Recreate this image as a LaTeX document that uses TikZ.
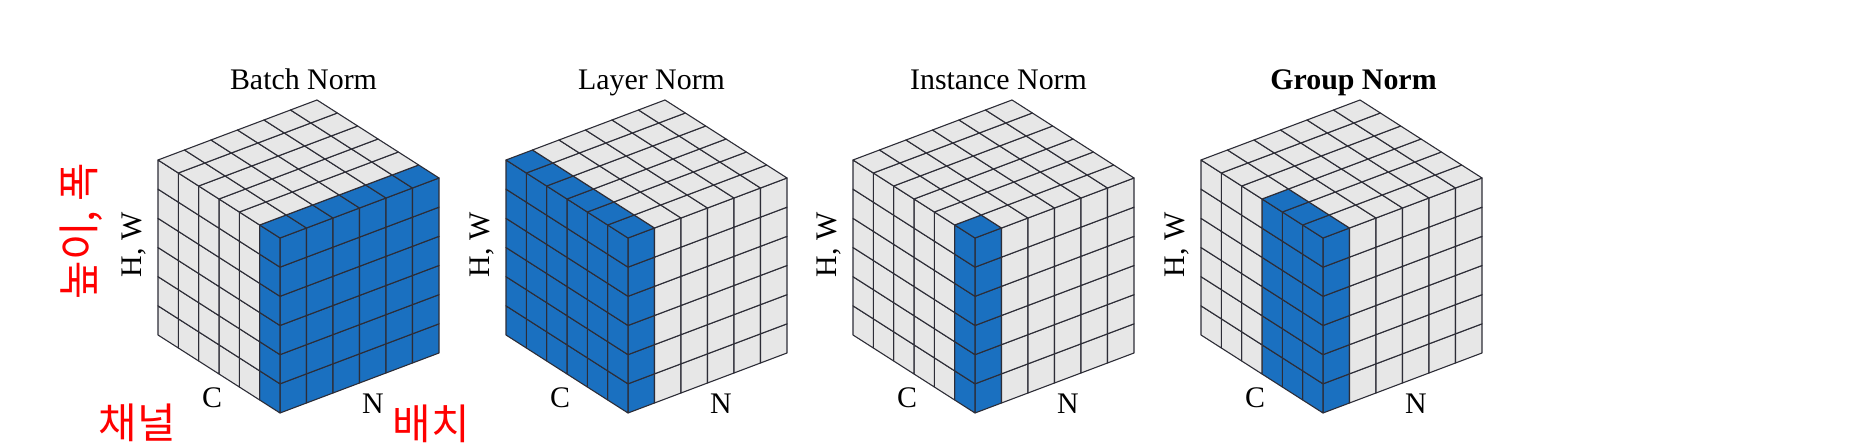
\documentclass[tikz,border=0pt]{standalone}
\usepackage{fontspec}
\usepackage{xcolor}
\usepackage{tikz}
\setmainfont{Liberation Serif}
\newfontfamily\kofont{Noto Sans CJK KR}
\definecolor{normblue}{RGB}{26,112,192}
\definecolor{cellgray}{RGB}{231,231,231}
\definecolor{gridline}{RGB}{45,45,55}

\begin{document}
\begin{tikzpicture}[x=1bp, y=1bp,
                    cell/.style={draw=gridline, line width=1.1bp, line join=round},
                    title/.style={font=\fontsize{30}{36}\selectfont, anchor=base},
                    axislabel/.style={font=\fontsize{30}{36}\selectfont},
                    korean/.style={text=red, font=\kofont\fontsize{42}{50}\selectfont},
                   ]

\useasboundingbox (0,0) rectangle (1850,445);

% one cube per method: front x / blue C slices / blue N slices / title / title offset
\foreach \fx/\nc/\nn/\ttl/\tx [count=\k] in {280/1/6/{Batch Norm}/23.5,
                                             628/6/1/{Layer Norm}/23.5,
                                             975/1/1/{Instance Norm}/23.5,
                                             1323/3/1/{\textbf{Group Norm}}/30.5}
{
  \begin{scope}[shift={(\fx,32)}, x={(26.5bp,10bp)}, y={(0bp,29.1667bp)}, z={(-20.333bp,13bp)}]
    % front right face (N, H)
    \foreach \i in {0,...,5}
      \foreach \j in {0,...,5}{
        \ifnum\i<\nn \def\fc{normblue}\else\def\fc{cellgray}\fi
        \draw[cell, fill=\fc] (\i,\j,0) -- ++(1,0,0) -- ++(0,1,0) -- ++(-1,0,0) -- cycle;
      }
    % front left face (C, H)
    \foreach \i in {0,...,5}
      \foreach \j in {0,...,5}{
        \ifnum\i<\nc \def\fc{normblue}\else\def\fc{cellgray}\fi
        \draw[cell, fill=\fc] (0,\j,\i) -- ++(0,0,1) -- ++(0,1,0) -- ++(0,0,-1) -- cycle;
      }
    % top face (N, C)
    \foreach \i in {0,...,5}
      \foreach \j in {0,...,5}{
        \def\fc{cellgray}
        \ifnum\i<\nn \ifnum\j<\nc \def\fc{normblue}\fi\fi
        \draw[cell, fill=\fc] (\i,6,\j) -- ++(1,0,0) -- ++(0,0,1) -- ++(-1,0,0) -- cycle;
      }
  \end{scope}

  \node[title] (title\k) at (\fx+\tx,355) {\ttl};
  \node[axislabel, rotate=90] (hw\k) at (\fx-146,200) {H, W};
  \node[axislabel] (clab\k) at (\fx-68,47) {C};
  \node[axislabel] (nlab\k) at (\fx+93,41) {N};
}

\node[korean, rotate=90] (hwko) at (81,214) {높이, 폭};
\node[korean] (cko) at (137,22) {채널};
\node[korean] (nko) at (431,21) {배치};

\end{tikzpicture}
\end{document}
